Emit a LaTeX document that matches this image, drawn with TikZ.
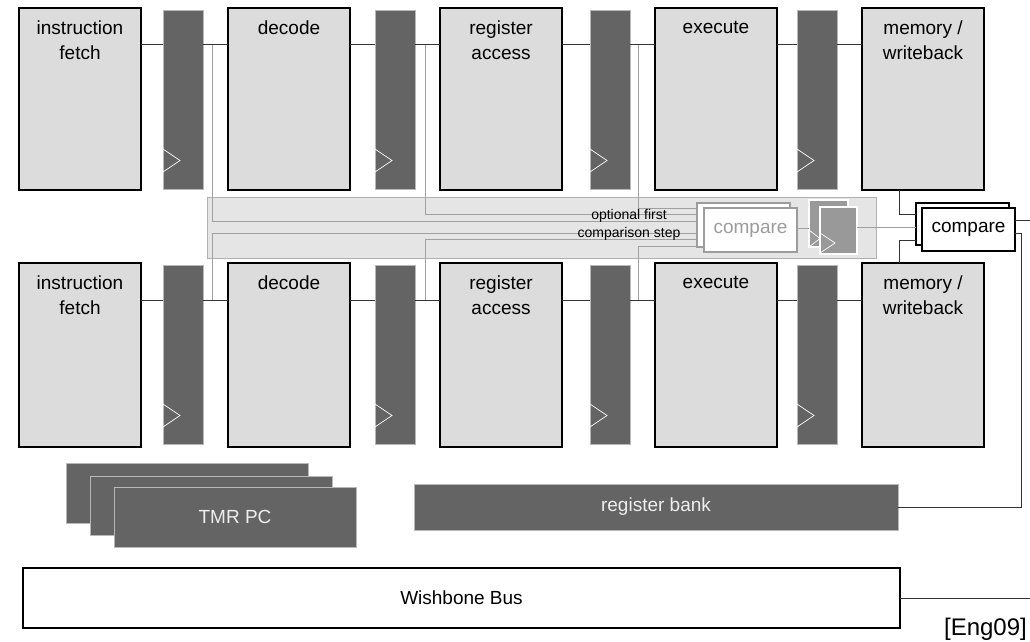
\documentclass[tikz,border=0pt]{standalone}
\usepackage{fontspec}
\setmainfont{Liberation Sans}
\definecolor{stagefill}{HTML}{DCDCDC}
\definecolor{regfill}{HTML}{646464}
\definecolor{regedge}{HTML}{B8B8B8}
\definecolor{bandfill}{HTML}{E5E5E5}
\definecolor{bandedge}{HTML}{B0B0B0}
\definecolor{gwirec}{HTML}{A0A0A0}
\definecolor{gbox}{HTML}{9C9C9C}
\definecolor{sregfill}{HTML}{999999}
\definecolor{lighttext}{HTML}{EEEEEE}
\begin{document}
\begin{tikzpicture}[x=1pt,y=-1pt,
  box/.style={anchor=north west, inner sep=0pt, outer sep=0pt},
  stage/.style={box, draw=black, line width=1.5pt, fill=stagefill, minimum width=122pt},
  pipereg/.style={box, draw=regedge, line width=0.7pt, fill=regfill, minimum width=40pt, minimum height=179pt},
  stagetext/.style={anchor=north, inner sep=0pt, align=center, font=\fontsize{19}{24.5}\selectfont},
  big/.style={font=\fontsize{19}{23}\selectfont},
  clk/.style={draw=white, line width=0.7pt},
  wire/.style={draw=black!80, line width=0.8pt},
  gwire/.style={draw=gwirec, line width=0.8pt},
  graycmp/.style={box, draw=gbox, line width=1.4pt, fill=white, minimum width=93pt, minimum height=44pt, text=gbox, big},
  blackcmp/.style={box, draw=black, line width=1.5pt, fill=white, minimum width=93pt, minimum height=43pt, big},
  smallreg/.style={box, draw=white, line width=1.2pt, fill=sregfill, minimum width=38pt, minimum height=47pt},
  darkbar/.style={box, draw=regedge, line width=0.7pt, fill=regfill, text=lighttext, big}
]
\useasboundingbox (0,0) rectangle (1030,642);

% optional first comparison band
\node[box, fill=bandfill, draw=bandedge, line width=0.8pt,
      minimum width=669pt, minimum height=61pt] (band) at (207,197) {};

% junction points on the pipeline buses
\coordinate (ja1) at (212,44);
\coordinate (ja2) at (425,44);
\coordinate (ja3) at (638,44);
\coordinate (jb1) at (212,300);
\coordinate (jb2) at (425,300);
\coordinate (jb3) at (638,300);

% first-stage comparators
\node[graycmp] (GCb) at (697,203) {};
\draw[gwire] (ja1) |- ([yshift=-18pt]GCb.north west);
\draw[gwire] (ja2) |- ([yshift=-11pt]GCb.north west);
\draw[gwire] (ja3) |- ([yshift=-5pt]GCb.north west);
\draw[gwire] (jb1) |- ([yshift=-30pt]GCb.north west);
\draw[gwire] (jb2) |- ([yshift=-36pt]GCb.north west);
\draw[gwire] (jb3) |- ([yshift=-43pt]GCb.north west);
\node[graycmp] (GCb2) at (697,203) {};
\node[graycmp] (GCf) at (704,208) {compare};

\node[inner sep=0pt, align=center, font=\fontsize{14}{17.5}\selectfont] (opt) at (629,225)
  {optional first\\comparison step};

% registers after the first comparison
\node[smallreg, minimum width=39pt] (SRb) at (809,200) {};
\draw[clk] (SRb.south west) -- ++(11,-8.5) -- ++(-11,-8.5);
\node[smallreg, minimum width=37pt] (SRf) at (820,207) {};
\draw[clk] ([yshift=1pt]SRf.south west) -- ++(15,-10) -- ++(-15,-10);

% final comparators
\node[blackcmp, minimum height=42pt] (CBb) at (916,203) {};
\node[blackcmp] (CBf) at (922,208) {compare};

\draw[gwire] ([yshift=2pt]GCf.east) -- ([yshift=2pt]GCf.east -| SRb.west);
\draw[gwire] ([yshift=3pt]SRf.east) -- ([yshift=3pt]SRf.east -| CBb.west);

% both pipelines
\foreach \r/\sy/\sh/\ry/\wy in {a/8/182/10/44, b/263/184/265/300} {
  \node[stage, minimum height=\sh pt] (IF\r) at (19,\sy) {};
  \node[stage, minimum height=\sh pt] (DE\r) at (228,\sy) {};
  \node[stage, minimum height=\sh pt] (RA\r) at (440,\sy) {};
  \node[stage, minimum height=\sh pt] (EX\r) at (655,\sy) {};
  \node[stage, minimum height=\sh pt] (MW\r) at (862,\sy) {};
  \node[stagetext] (IFt\r) at ([yshift=-13pt]IF\r.north) {instruction\\fetch};
  \node[stagetext] (DEt\r) at ([yshift=-13pt]DE\r.north) {decode};
  \node[stagetext] (RAt\r) at ([yshift=-13pt]RA\r.north) {register\\access};
  \node[stagetext] (EXt\r) at ([yshift=-13pt]EX\r.north) {execute};
  \node[stagetext] (MWt\r) at ([yshift=-13pt]MW\r.north) {memory /\\writeback};
  \node[pipereg] (PA\r) at (163,\ry) {};
  \node[pipereg] (PB\r) at (375,\ry) {};
  \node[pipereg] (PC\r) at (590,\ry) {};
  \node[pipereg] (PD\r) at (797,\ry) {};
  \foreach \p in {PA,PB,PC,PD}
    \draw[clk] ([yshift=17pt]\p\r.south west) -- ++(17,-11.5) -- ++(-17,-11.5);
  \coordinate (bus\r) at (0,\wy);
  \draw[wire] (IF\r.east |- bus\r) -- (PA\r.west |- bus\r);
  \draw[wire] (PA\r.east |- bus\r) -- (DE\r.west |- bus\r);
  \draw[wire] (DE\r.east |- bus\r) -- (PB\r.west |- bus\r);
  \draw[wire] (PB\r.east |- bus\r) -- (RA\r.west |- bus\r);
  \draw[wire] (RA\r.east |- bus\r) -- (PC\r.west |- bus\r);
  \draw[wire] (PC\r.east |- bus\r) -- (EX\r.west |- bus\r);
  \draw[wire] (EX\r.east |- bus\r) -- (PD\r.west |- bus\r);
  \draw[wire] (PD\r.east |- bus\r) -- (MW\r.west |- bus\r);
}

% writeback results into the final comparator
\draw[wire] ([xshift=37pt]MWa.south west) |- ([yshift=-11pt]CBb.north west);
\draw[wire] ([xshift=37pt]MWb.north west) |- ([yshift=-37pt]CBb.north west);

% triple program counter
\node[darkbar, minimum width=242pt, minimum height=60pt] (TMa) at (66,463) {};
\node[darkbar, minimum width=242pt, minimum height=59pt] (TMb) at (90,476) {};
\node[darkbar, minimum width=242pt, minimum height=60pt] (TMc) at (114,487) {TMR PC};

% register bank and bus
\node[darkbar, minimum width=484pt, minimum height=46pt] (RB) at (414,484) {register bank};
\node[box, draw=black, line width=1.5pt, fill=white, minimum width=877pt,
      minimum height=60pt, big] (WB) at (23,568) {Wishbone Bus};

\coordinate (outA) at (1030,220);
\coordinate (outB) at (1030,598);
\draw[wire] ([yshift=-12pt]CBf.north east) -- ([yshift=-12pt]CBf.north east -| outA);
\draw[wire] ([yshift=-25pt]CBf.north east) -- ++(6,0) |- (RB.east);
\draw[wire] (WB.east) -- (WB.east -| outB);

\node[anchor=base east, inner sep=0pt, font=\fontsize{24}{28}\selectfont] (cite) at (1027,635) {[Eng09]};
\end{tikzpicture}
\end{document}
